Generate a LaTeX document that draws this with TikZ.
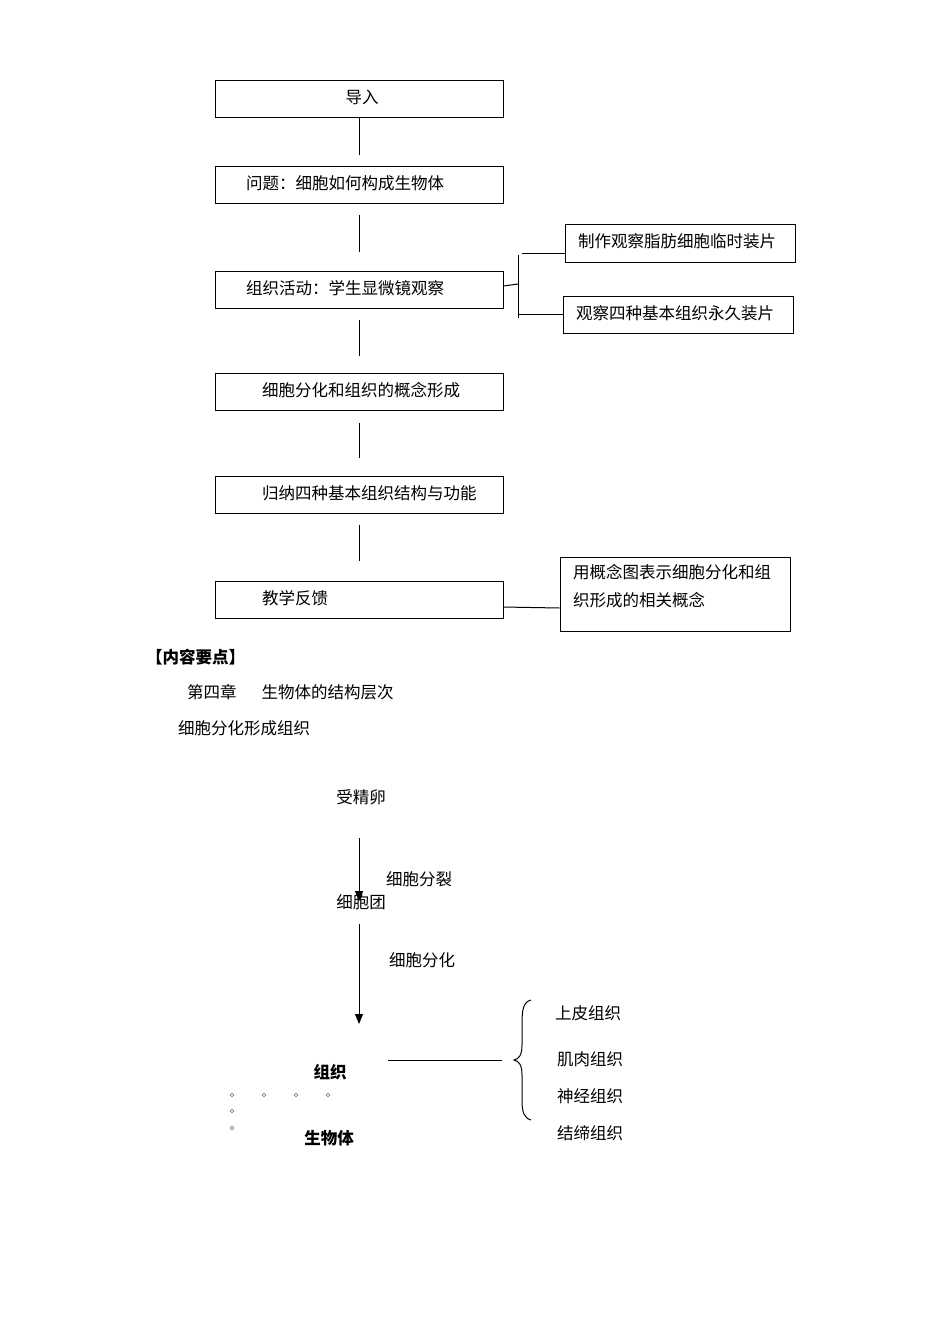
\documentclass[tikz,border=0pt]{standalone}
\usepackage{fontspec}
\setmainfont{Noto Sans CJK SC}
\usetikzlibrary{arrows.meta}
\tikzset{
  box/.style={draw, line width=1pt, minimum width=288pt, minimum height=37pt, inner sep=0pt},
  sidebox/.style={draw, line width=1pt, minimum width=230pt, inner sep=0pt},
  conn/.style={line width=1pt},
  arr/.style={line width=1pt, -{Triangle[width=8pt,length=10pt]}},
  txt/.style={inner sep=0pt, anchor=west},
  dotc/.style={draw, line width=0.6pt, black!60}
}
\newcommand{\boxtext}[2]{\makebox[288pt][l]{\hspace{#1}\raisebox{4.5pt}{#2}}}
\newcommand{\sidetext}[1]{\makebox[230pt][l]{\hspace{13pt}\raisebox{4.5pt}{#1}}}
\begin{document}
\begin{tikzpicture}[x=1pt,y=-1pt,font=\fontsize{16.5}{19}\selectfont]
\useasboundingbox (0,0) rectangle (950,1344);
\fill[white] (0,0) rectangle (950,1344);
% main column
\node[box] (b1) at (359,99) {\makebox[288pt][c]{\hspace{6pt}\raisebox{4.5pt}{导入}}};
\node[box] (b2) at (359,184.5) {\boxtext{31pt}{问题：细胞如何构成生物体}};
\node[box] (b3) at (359,290) {\boxtext{31pt}{组织活动：学生显微镜观察}};
\node[box] (b4) at (359,391.5) {\boxtext{47pt}{细胞分化和组织的概念形成}};
\node[box] (b5) at (359,494.5) {\boxtext{47pt}{归纳四种基本组织结构与功能}};
\node[box] (b6) at (359,599.5) {\boxtext{47pt}{教学反馈}};
\draw[conn,shorten >=11pt] (b1.south) -- (b2.north);
\draw[conn,shorten <=11pt,shorten >=19pt] (b2.south) -- (b3.north);
\draw[conn,shorten <=11pt,shorten >=17pt] (b3.south) -- (b4.north);
\draw[conn,shorten <=12pt,shorten >=18pt] (b4.south) -- (b5.north);
\draw[conn,shorten <=11pt,shorten >=20pt] (b5.south) -- (b6.north);
% side boxes
\node[sidebox, minimum height=38pt] (sA) at (680,243) {\sidetext{制作观察脂肪细胞临时装片}};
\node[sidebox, minimum height=37pt] (sB) at (678,314.5) {\sidetext{观察四种基本组织永久装片}};
\node[sidebox, minimum height=74pt] (sC) at (675,594) {\makebox[230pt][l]{\hspace{13pt}\raisebox{16pt}[0pt][0pt]{\parbox[t]{215pt}{\baselineskip=28pt 用概念图表示细胞分化和组\\织形成的相关概念}}}};
% bracket
\coordinate (brT) at (518,255);
\coordinate (brB) at (518,318);
\coordinate (brM) at (518,284);
\coordinate (bt) at (522,253);
\coordinate (bb) at (518,314.5);
\draw[conn] (brT) -- (brB);
\draw[conn] (b3.east |- 0,286) -- (brM);
\draw[conn] (bt) -- (bt -| sA.west);
\draw[conn] (bb) -- (sB.west);
\coordinate (c6) at (503,607);
\draw[conn] (c6) -- (sC.west |- 0,608);
% header texts
\node[txt] (h1) at (146,657) {\bfseries 【内容要点】};
\node[txt] (h2) at (187,692) {第四章\hspace{25pt}生物体的结构层次};
\node[txt] (h3) at (178,728) {细胞分化形成组织};
% lower diagram
\node[inner sep=0pt] (t1) at (361,797) {受精卵};
\node[inner sep=0pt] (t2) at (361,902) {细胞团};
\node[inner sep=0pt] (t3) at (330,1072) {\bfseries 组织};
\node[inner sep=0pt] (t4) at (329,1138) {\bfseries 生物体};
\node[txt] (l1) at (386,879) {细胞分裂};
\node[txt] (l2) at (389,960) {细胞分化};
\coordinate (a1s) at (359,838);
\coordinate (a1e) at (359,901);
\coordinate (a2s) at (359,924);
\coordinate (a2e) at (359,1024);
\draw[arr] (a1s) -- (a1e);
\draw[arr] (a2s) -- (a2e);
\coordinate (ls) at (388,1060);
\coordinate (le) at (502,1060);
\draw[conn] (ls) -- (le);
% brace
\draw[line width=1pt] (531,1000) .. controls (523,1002) and (522,1010) .. (522,1025)
  -- (522,1045) .. controls (522,1055) and (519,1059) .. (514,1060)
  .. controls (519,1061) and (522,1065) .. (522,1075)
  -- (522,1100) .. controls (522,1112) and (524,1118) .. (531,1120);
\node[txt] (r1) at (555,1013) {上皮组织};
\node[txt] (r2) at (557,1059) {肌肉组织};
\node[txt] (r3) at (557,1096) {神经组织};
\node[txt] (r4) at (557,1133) {结缔组织};
% small circles
\foreach \p in {(232,1095),(264,1095),(296,1095),(328,1095),(232,1111),(232,1128)}
  \draw[dotc] \p circle (1.8);
\end{tikzpicture}
\end{document}
